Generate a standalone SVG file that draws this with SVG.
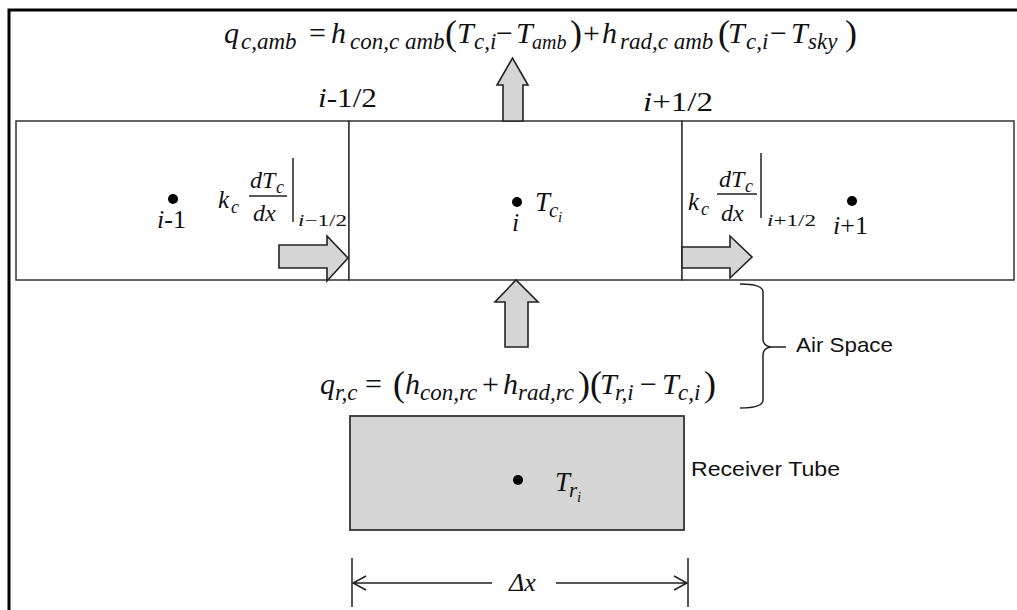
<svg xmlns="http://www.w3.org/2000/svg" width="1017" height="610" viewBox="0 0 1017 610">
<style>
.cell{fill:#fff;stroke:#333;stroke-width:1.5}
.tube{fill:#d5d5d5;stroke:#333;stroke-width:1.8}
.arw{fill:#d5d5d5;stroke:#222;stroke-width:1.6;stroke-linejoin:miter}
.ln{fill:none;stroke:#222;stroke-width:1.5}
.m{font-family:"Liberation Serif",serif;font-style:italic;fill:#111}
.u{font-style:normal}
.sb{font-size:23px}
.s{font-family:"Liberation Sans",sans-serif;fill:#111}
.dot{fill:#000}
</style>
<rect width="1017" height="610" fill="#fff"/>
<path d="M9,610 V10 H1017" fill="none" stroke="#000" stroke-width="3"/>

<g id="cell-i-minus-1">
<rect class="cell" x="16" y="121" width="333" height="159"/>
<circle class="dot" cx="173" cy="199" r="5"/>
<text class="m" x="157" y="228" font-size="26">i<tspan class="u">-1</tspan></text>
</g>

<g id="cell-i">
<rect class="cell" x="349" y="121" width="333" height="159"/>
<circle class="dot" cx="517" cy="202" r="5"/>
<text class="m" x="512" y="231" font-size="26">i</text>
<text class="m" x="535" y="211" font-size="27">T<tspan x="549" y="217" font-size="21">c</tspan><tspan x="558" y="222" font-size="15">i</tspan></text>
</g>

<g id="cell-i-plus-1">
<rect class="cell" x="682" y="121" width="332" height="159"/>
<circle class="dot" cx="852" cy="201" r="5"/>
<text class="m" x="833" y="234" font-size="26">i<tspan class="u">+1</tspan></text>
</g>

<g id="receiver-tube">
<rect class="tube" x="350" y="416" width="334" height="114"/>
<circle class="dot" cx="518" cy="480" r="5"/>
<text class="m" x="555" y="491" font-size="27">T<tspan x="569" y="497" font-size="21">r</tspan><tspan x="577" y="502" font-size="15">i</tspan></text>
<text class="s" x="691" y="476" font-size="21" textLength="149" lengthAdjust="spacingAndGlyphs">Receiver Tube</text>
</g>

<g id="air-space">
<path class="ln" d="M740,284 Q763,284 763,292 L763,339 Q763,346 771,347 L786,347 M771,347 Q763,348 763,355 L763,400 Q763,408 740,408"/>
<text class="s" x="796" y="352" font-size="21" textLength="97" lengthAdjust="spacingAndGlyphs">Air Space</text>
</g>

<g id="labels">
<text class="m" x="318" y="107" font-size="27" textLength="59" lengthAdjust="spacingAndGlyphs">i<tspan class="u">-1/2</tspan></text>
<text class="m" x="643" y="111" font-size="27" textLength="70" lengthAdjust="spacingAndGlyphs">i<tspan class="u">+1/2</tspan></text>

<text class="m" font-size="30"><tspan x="224" y="43">q</tspan><tspan class="sb" x="241" y="49">c,amb</tspan><tspan class="u" x="309" y="43">=</tspan><tspan x="331" y="43">h</tspan><tspan class="sb" x="350" y="49">con,c amb</tspan><tspan class="u" x="445" y="45" font-size="36">(</tspan><tspan x="457" y="43">T</tspan><tspan class="sb" x="474" y="49">c,i</tspan><tspan class="u" x="496" y="43">−</tspan><tspan x="516" y="43">T</tspan><tspan x="532" y="49" font-size="20">amb</tspan><tspan class="u" x="570" y="45" font-size="36">)</tspan><tspan class="u" x="583" y="43">+</tspan><tspan x="602" y="43">h</tspan><tspan class="sb" x="620" y="49">rad,c amb</tspan><tspan class="u" x="718" y="45" font-size="36">(</tspan><tspan x="728" y="43">T</tspan><tspan class="sb" x="746" y="49">c,i</tspan><tspan class="u" x="770" y="43">−</tspan><tspan x="791" y="43">T</tspan><tspan class="sb" x="808" y="49">sky</tspan><tspan class="u" x="845" y="45" font-size="36">)</tspan></text>

<text class="m" font-size="30"><tspan x="320" y="394">q</tspan><tspan class="sb" x="335" y="400">r,c</tspan><tspan class="u" x="365" y="394">=</tspan><tspan class="u" x="393" y="396" font-size="36">(</tspan><tspan x="405" y="394">h</tspan><tspan class="sb" x="420" y="400">con,rc</tspan><tspan class="u" x="482" y="394">+</tspan><tspan x="503" y="394">h</tspan><tspan class="sb" x="518" y="400">rad,rc</tspan><tspan class="u" x="578" y="396" font-size="36">)</tspan><tspan class="u" x="590" y="396" font-size="36">(</tspan><tspan x="600" y="394">T</tspan><tspan class="sb" x="615" y="400">r,i</tspan><tspan class="u" x="640" y="394">−</tspan><tspan x="662" y="394">T</tspan><tspan class="sb" x="678" y="400">c,i</tspan><tspan class="u" x="704" y="396" font-size="36">)</tspan></text>

<g id="flux-left">
<text class="m" x="218" y="208" font-size="25">k<tspan x="231" y="213" font-size="18">c</tspan></text>
<text class="m" x="250" y="188" font-size="24">dT<tspan x="276" y="193" font-size="18">c</tspan></text>
<line class="ln" x1="249" y1="196" x2="287" y2="196"/>
<text class="m" x="253" y="221" font-size="24">dx</text>
<line class="ln" x1="293" y1="158" x2="293" y2="222"/>
<text class="m" x="298" y="226" font-size="17" textLength="49" lengthAdjust="spacingAndGlyphs">i<tspan class="u">−1/2</tspan></text>
</g>

<g id="flux-right">
<text class="m" x="688" y="210" font-size="25">k<tspan x="701" y="215" font-size="18">c</tspan></text>
<text class="m" x="719" y="187" font-size="24">dT<tspan x="745" y="192" font-size="18">c</tspan></text>
<line class="ln" x1="717" y1="194" x2="757" y2="194"/>
<text class="m" x="721" y="221" font-size="24">dx</text>
<line class="ln" x1="761" y1="153" x2="761" y2="218"/>
<text class="m" x="767" y="226" font-size="17" textLength="49" lengthAdjust="spacingAndGlyphs">i<tspan class="u">+1/2</tspan></text>
</g>
</g>

<g id="connectors">
<polygon class="arw" points="503,121 503,85 497,85 512.5,58 528,85 523,85 523,121"/>
<polygon class="arw" points="505,347 505,302 495,302 516,280 538,302 528,302 528,347"/>
<polygon class="arw" points="279,245 327,245 327,236 348,258 327,281 327,268 279,268"/>
<polygon class="arw" points="682,247 730,247 730,236 752,257 730,278 730,268 682,268"/>
<g id="dimension">
<line class="ln" x1="352" y1="558" x2="352" y2="607"/>
<line class="ln" x1="688" y1="558" x2="688" y2="607"/>
<path class="ln" d="M353,583 H492 M556,583 H687 M366,576 L353,583 L366,590 M674,576 L687,583 L674,590"/>
<text class="m" x="509" y="591" font-size="26">Δx</text>
</g>
</g>
</svg>
